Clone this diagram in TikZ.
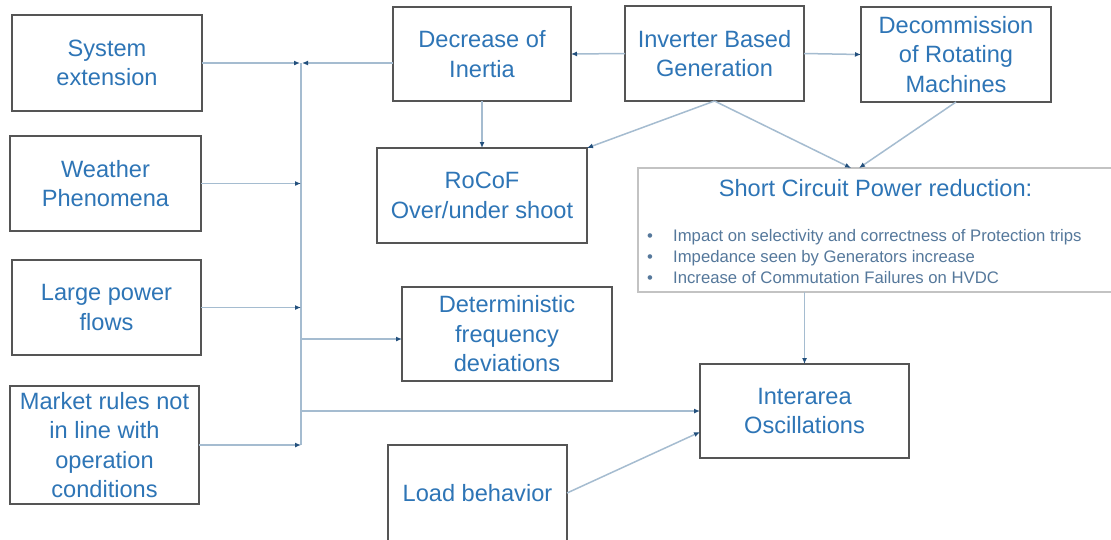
\documentclass[tikz,border=0pt]{standalone}
\usepackage{fontspec}
\setmainfont{Liberation Sans}
\usetikzlibrary{arrows.meta,calc}
\definecolor{txtblue}{RGB}{46,117,182}
\definecolor{bultxt}{RGB}{85,120,155}
\definecolor{boxgray}{RGB}{85,85,85}
\definecolor{scgray}{RGB}{195,195,195}
\definecolor{linec}{RGB}{165,188,208}
\definecolor{tipc}{RGB}{35,80,125}
\begin{document}
\begin{tikzpicture}[x=1pt,y=-1pt,
  box/.style={draw=boxgray, line width=1.8pt, fill=white, text=txtblue,
    font=\fontsize{23.6}{29.5}\selectfont, align=center, inner sep=0pt, outer sep=0pt},
  scbox/.style={draw=scgray, line width=1.4pt, fill=white, inner sep=0pt, outer sep=0pt},
  sctitle/.style={text=txtblue, font=\fontsize{23.6}{29.5}\selectfont, inner sep=0pt},
  bul/.style={text=bultxt, font=\fontsize{16.7}{21}\selectfont, inner sep=0pt},
  bus/.style={draw=linec, line width=1.5pt},
  conn/.style={draw=linec, line width=1.5pt, -{Latex[length=6pt,width=5pt,color=tipc]}}
]
\clip (0,0) rectangle (1111,539);
\fill[white] (0,0) rectangle (1111,539);

\node[box, minimum width=190pt, minimum height=96pt] (sysext) at (107,63) {System\\extension};
\node[box, minimum width=191pt, minimum height=95pt] (weather) at (105.5,183.5) {Weather\\Phenomena};
\node[box, minimum width=189pt, minimum height=95pt] (large) at (106.5,307.5) {Large power\\flows};
\node[box, minimum width=189pt, minimum height=118pt] (market) at (104.5,445) {Market rules not\\in line with\\operation\\conditions};
\node[box, minimum width=178pt, minimum height=94pt] (decrease) at (482,54) {Decrease of\\Inertia};
\node[box, minimum width=179pt, minimum height=95pt] (inverter) at (714.5,53.5) {Inverter Based\\Generation};
\node[box, minimum width=190pt, minimum height=95pt] (decom) at (956,54.5) {Decommission\\of Rotating\\Machines};
\node[box, minimum width=210pt, minimum height=95pt] (rocof) at (482,195.5) {RoCoF\\Over/under shoot};
\node[scbox, minimum width=477pt, minimum height=124pt] (sc) at (876.5,230) {};
\node[box, minimum width=210pt, minimum height=94pt] (det) at (507,334) {Deterministic\\frequency\\deviations};
\node[box, minimum width=209pt, minimum height=94pt] (inter) at (804.5,411) {Interarea\\Oscillations};
\node[box, minimum width=179pt, minimum height=96pt] (load) at (477.5,493) {Load behavior};

\node[sctitle, anchor=base] (title) at (875.5,196.5) {Short Circuit Power reduction:};
\node[bul, anchor=base west] (b1) at (647,241) {\makebox[26pt][l]{•}Impact on selectivity and correctness of Protection trips};
\node[bul, anchor=base west] (b2) at (647,262) {\makebox[26pt][l]{•}Impedance seen by Generators increase};
\node[bul, anchor=base west] (b3) at (647,283) {\makebox[26pt][l]{•}Increase of Commutation Failures on HVDC};

\coordinate (j1) at (301,63);
\coordinate (j2) at (301,183.5);
\coordinate (j3) at (301,307.5);
\coordinate (j4) at (301,445);
\coordinate (j5) at (301,339);
\coordinate (j6) at (301,411);
\coordinate (interin) at (700,432);
\coordinate (sca) at (851,168);
\coordinate (scb) at (859,168);

\draw[bus] (j1) -- (j4);
\draw[conn, shorten >=1pt] (sysext.east) -- (j1);
\draw[conn, shorten >=1pt] (decrease.west |- j1) -- (j1);
\draw[conn] (weather.east) -- (j2);
\draw[conn] (large.east) -- (j3);
\draw[conn] (market.east) -- (j4);
\draw[conn] (j5) -- (det.west |- j5);
\draw[conn] (j6) -- (inter.west |- j6);
\draw[conn] (load.east) -- (interin);
\draw[conn] (inverter.west) -- (decrease.east);
\draw[conn] (inverter.east) -- (decom.west);
\draw[conn] (decrease.south) -- (rocof.north);
\draw[conn] (inverter.south) -- (rocof.north east);
\draw[conn] (inverter.south) -- (sca);
\draw[conn] (decom.south) -- (scb);
\draw[conn] (inter.north |- sc.south) -- (inter.north);
\end{tikzpicture}
\end{document}
